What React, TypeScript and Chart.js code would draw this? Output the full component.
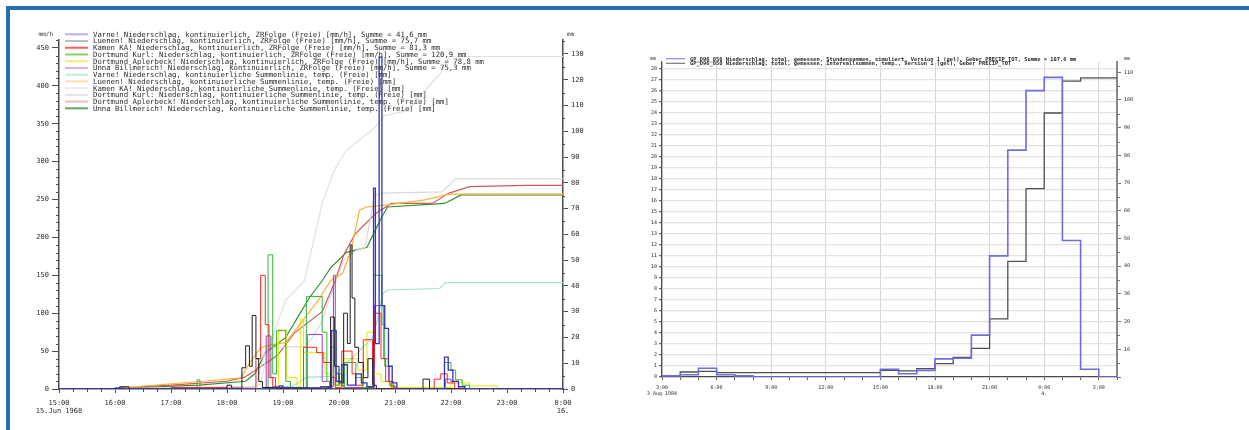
import { useEffect, useRef } from 'react';
import { Chart, registerables } from 'chart.js';

Chart.register(...registerables);

const MONO = '"DejaVu Sans Mono", "Liberation Mono", monospace';
const TEXT = '#2b2b2b';
const AXIS = '#4d4d4d';

// ================= LEFT CHART: 15 Jun 1968 (x = minutes after 15:00) =================
const leftHourLabels = ['15:00', '16:00', '17:00', '18:00', '19:00', '20:00', '21:00', '22:00', '23:00', '0:00'];
const leftDateLabels = ['15.Jun 1968', '16.'];

const leftLegendLabels = [
  'Varne! Niederschlag, kontinuierlich, ZRFolge (Freie) [mm/h], Summe = 41,6 mm',
  'Luenen! Niederschlag, kontinuierlich, ZRFolge (Freie) [mm/h], Summe = 75,7 mm',
  'Kamen KA! Niederschlag, kontinuierlich, ZRFolge (Freie) [mm/h], Summe = 81,3 mm',
  'Dortmund Kurl: Niederschlag, kontinuierlich, ZRFolge (Freie) [mm/h], Summe = 120,9 mm',
  'Dortmund Aplerbeck! Niederschlag, kontinuierlich, ZRFolge (Freie) [mm/h], Summe = 78,8 mm',
  'Unna Billmerich! Niederschlag, kontinuierlich, ZRFolge (Freie) [mm/h], Summe = 75,3 mm',
  'Varne! Niederschlag, kontinuierliche Summenlinie, temp. (Freie) [mm]',
  'Luenen! Niederschlag, kontinuierliche Summenlinie, temp. (Freie) [mm]',
  'Kamen KA! Niederschlag, kontinuierliche Summenlinie, temp. (Freie) [mm]',
  'Dortmund Kurl: Niederschlag, kontinuierliche Summenlinie, temp. (Freie) [mm]',
  'Dortmund Aplerbeck! Niederschlag, kontinuierliche Summenlinie, temp. (Freie) [mm]',
  'Unna Billmerich! Niederschlag, kontinuierliche Summenlinie, temp. (Freie) [mm]',
];
const leftLegendColors = [
  '#b4b4ee', '#bcbcbc', '#ff5c5c', '#8fd06a', '#f0f070', '#dcb0e4',
  '#c2ebe0', '#ffdca8', '#ececec', '#e4e4e4', '#efbcbc', '#5faa5f',
];
const leftLineColors = [
  '#3434b8', '#1e1e1e', '#ff2424', '#36b336', '#e6e600', '#9b3dca',
  '#9fe0cf', '#ffb13b', '#d9d9d9', '#e0e0e0', '#cc5a5a', '#2f8f2f',
];

// intensities, mm/h (each value holds until the next time)
const varneRateT = [0, 60, 70, 230, 236, 240, 288, 292, 297, 303, 309, 318, 324, 330, 337, 339, 343, 346, 349, 353, 357, 362, 410, 413, 417, 422, 428, 435, 540];
const varneRateV = [0, 1, 0, 2, 4, 1.5, 2, 77, 10, 32, 5, 20, 8, 3, 265, 60, 438, 110, 80, 30, 8, 0, 0, 42, 25, 10, 3, 0, 0];
const luenenRateT = [0, 65, 75, 180, 185, 196, 200, 204, 207, 211, 214, 218, 230, 280, 291, 295, 300, 305, 309, 312, 314, 317, 321, 326, 331, 336, 340, 390, 397, 540];
const luenenRateV = [0, 3, 0, 5, 1, 28, 57, 30, 97, 40, 10, 2, 1, 3, 95, 30, 8, 100, 60, 190, 120, 55, 35, 15, 40, 5, 0, 13, 0, 0];
const kamenRateT = [0, 120, 180, 211, 216, 221, 225, 229, 235, 262, 276, 283, 292, 296, 303, 314, 318, 326, 336, 338, 345, 350, 356, 360, 402, 409, 416, 424, 540];
const kamenRateV = [0, 2, 1, 40, 150, 85, 15, 3, 0, 55, 48, 35, 15, 2, 50, 20, 5, 65, 30, 100, 40, 10, 3, 0, 13, 20, 8, 0, 0];
const kurlRateT = [0, 148, 151, 224, 229, 233, 243, 248, 265, 282, 287, 291, 296, 300, 304, 306, 318, 325, 337, 346, 349, 354, 360, 413, 420, 425, 432, 440, 540];
const kurlRateV = [0, 12, 0, 177, 20, 77, 10, 2, 122, 75, 10, 55, 5, 20, 3, 35, 15, 2, 150, 85, 30, 5, 0, 35, 25, 12, 5, 0, 0];
const aplerbeckRateT = [0, 235, 244, 255, 259, 262, 285, 297, 305, 320, 330, 337, 345, 355, 420, 440, 470, 540];
const aplerbeckRateV = [0, 78, 15, 3, 92, 48, 20, 5, 40, 25, 75, 20, 10, 2, 8, 4, 0, 0];
const unnaRateT = [0, 222, 227, 232, 266, 282, 290, 294, 296, 300, 305, 338, 348, 353, 358, 414, 420, 428, 540];
const unnaRateV = [0, 70, 15, 2, 72, 10, 3, 150, 20, 5, 2, 110, 40, 10, 0, 13, 10, 0, 0];

// cumulative sums, mm
const varneSumT = [0, 200, 250, 265, 295, 305, 320, 336, 342, 347, 352, 408, 414, 540];
const varneSumV = [0, 0, 1, 4.5, 5, 9, 14, 20, 28, 37, 38.4, 39, 41.3, 41.3];
const luenenSumT = [0, 60, 155, 195, 204, 216, 225, 243, 260, 278, 291, 304, 313, 322, 330, 352, 392, 418, 540];
const luenenSumV = [0, 0.3, 3, 4.3, 10, 16, 17, 18, 26, 34.5, 42, 45, 54, 69.5, 70.6, 71.4, 73.4, 75.6, 75.6];
const kamenSumT = [0, 150, 210, 216, 222, 265, 280, 295, 305, 318, 328, 338, 345, 410, 425, 540];
const kamenSumV = [0, 0.5, 1, 8, 16, 16.5, 25, 40, 50, 53.6, 55, 75, 76, 76.5, 81.5, 81.5];
const kurlSumT = [0, 150, 210, 216, 225, 243, 263, 282, 295, 308, 322, 339, 348, 374, 383, 409, 418, 540];
const kurlSumV = [0, 0.3, 1, 2, 16.7, 34.5, 42, 72, 85, 92.7, 96.6, 101.7, 106, 108, 112, 122.6, 129, 129];
const aplerbeckSumT = [0, 60, 120, 180, 199, 234, 252, 282, 295, 305, 317, 339, 356, 400, 418, 440, 500, 540];
const aplerbeckSumV = [0, 0.3, 1.5, 3, 4.6, 13, 21.7, 30, 41, 52, 60, 68, 72, 72, 76, 78.5, 79, 79];
const unnaSumT = [0, 60, 150, 200, 210, 221, 243, 256, 269, 282, 291, 308, 330, 339, 346, 352, 413, 431, 540];
const unnaSumV = [0, 0.2, 1.5, 3, 6, 14, 20, 28, 35.8, 42, 47, 53, 55, 61.7, 66.8, 70.6, 72, 75.3, 75.3];

// ================= RIGHT CHART: 3/4 Aug 1984 (x = hours after 3:00) =================
const rightHourLabels = ['3:00', '6:00', '9:00', '12:00', '15:00', '18:00', '21:00', '0:00', '3:00'];
const rightDateLabels = ['3 Aug 1984', '4.'];
const rightLegendLabels = [
  'GP_D96_050 Niederschlag, total, gemessen, Stundensummen, simuliert, Version 1 (gel), Geber PRECIP_TOT, Summe = 107.6 mm',
  'GP_D96_050 Niederschlag, total, gemessen, Intervallsummen, temp., Version 1 (gel), Geber PRECIP_TOT',
];
const rightLegendColors = ['#8a8ae6', '#7a7a7a'];
const rightLineColors = ['#6e6ee0', '#505050'];
// hourly sums (mm per hour), left axis
const hourlySums = [0.1, 0.2, 0.8, 0.2, 0.1, 0, 0, 0, 0, 0, 0, 0, 0.7, 0.3, 0.6, 1.65, 1.7, 3.8, 11.0, 20.6, 26.0, 27.2, 12.4, 0.7, 0];
// interval sums (mm), right axis
const intervalSums = [0.2, 1.8, 2.0, 1.6, 1.6, 1.6, 1.6, 1.6, 1.6, 1.6, 1.6, 1.6, 2.4, 2.2, 3.0, 4.8, 7.1, 10.3, 21.0, 41.7, 68.0, 95.3, 106.8, 108.0, 108.0];

// ---------------------------------------------------------------------------
const pts = (t: number[], v: number[]) => t.map((x, i) => ({ x, y: v[i] }));

function drawLegend(ctx: CanvasRenderingContext2D, labels: string[], colors: string[], x0: number, y0: number, dy: number, len: number, font: string, lw: number) {
  ctx.font = font;
  ctx.textAlign = 'left';
  ctx.textBaseline = 'middle';
  labels.forEach((lab, i) => {
    const y = y0 + i * dy;
    ctx.strokeStyle = colors[i];
    ctx.lineWidth = lw;
    ctx.beginPath();
    ctx.moveTo(x0, y);
    ctx.lineTo(x0 + len, y);
    ctx.stroke();
    ctx.fillStyle = TEXT;
    ctx.fillText(lab, x0 + len + 5, y + 0.5);
  });
}

const leftOverlay = {
  id: 'leftOverlay',
  afterDraw(chart: any) {
    const { ctx, chartArea, scales } = chart;
    ctx.save();
    ctx.strokeStyle = AXIS;
    ctx.lineWidth = 1;
    ctx.beginPath();
    for (let v = 10; v <= 460; v += 10) {
      if (v % 50 === 0) continue;
      const y = Math.round(scales.yL.getPixelForValue(v)) + 0.5;
      ctx.moveTo(chartArea.left - 3, y);
      ctx.lineTo(chartArea.left, y);
    }
    for (let v = 5; v <= 135; v += 10) {
      const y = Math.round(scales.yR.getPixelForValue(v)) + 0.5;
      ctx.moveTo(chartArea.right, y);
      ctx.lineTo(chartArea.right + 2, y);
    }
    for (let m = 15; m < 540; m += 15) {
      if (m % 60 === 0) continue;
      const x = Math.round(scales.x.getPixelForValue(m)) + 0.5;
      ctx.moveTo(x, chartArea.bottom - 1);
      ctx.lineTo(x, chartArea.bottom + 3);
    }
    ctx.stroke();
    ctx.fillStyle = TEXT;
    ctx.font = `6px ${MONO}`;
    ctx.textBaseline = 'middle';
    ctx.textAlign = 'right';
    ctx.fillText('mm/h', chartArea.left - 6, 34);
    ctx.textAlign = 'left';
    ctx.fillText('mm', chartArea.right + 4, 34);
    drawLegend(ctx, leftLegendLabels, leftLegendColors, 65, 34.3, 6.73, 23, `7.3px ${MONO}`, 2);
    ctx.restore();
  },
};

const rightOverlay = {
  id: 'rightOverlay',
  afterDraw(chart: any) {
    const { ctx, chartArea, scales } = chart;
    ctx.save();
    ctx.strokeStyle = '#777';
    ctx.lineWidth = 1;
    ctx.beginPath();
    for (let v = 5; v <= 110; v += 10) {
      const y = Math.round(scales.y2.getPixelForValue(v)) + 0.5;
      ctx.moveTo(chartArea.right, y);
      ctx.lineTo(chartArea.right + 3, y);
    }
    ctx.stroke();
    ctx.fillStyle = TEXT;
    ctx.font = `5px ${MONO}`;
    ctx.textBaseline = 'middle';
    ctx.textAlign = 'right';
    ctx.fillText('mm', chartArea.left - 6, 59);
    ctx.textAlign = 'left';
    ctx.fillText('mm', chartArea.right + 7, 59);
    drawLegend(ctx, rightLegendLabels, rightLegendColors, 46, 58.7, 4.6, 19, `bold 5.4px ${MONO}`, 1.2);
    ctx.restore();
  },
};

function LeftChart() {
  const ref = useRef<HTMLCanvasElement>(null);
  useEffect(() => {
    const rates = [
      [varneRateT, varneRateV], [luenenRateT, luenenRateV], [kamenRateT, kamenRateV],
      [kurlRateT, kurlRateV], [aplerbeckRateT, aplerbeckRateV], [unnaRateT, unnaRateV],
    ];
    const sums = [
      [varneSumT, varneSumV], [luenenSumT, luenenSumV], [kamenSumT, kamenSumV],
      [kurlSumT, kurlSumV], [aplerbeckSumT, aplerbeckSumV], [unnaSumT, unnaSumV],
    ];
    const datasets: any[] = [];
    rates.forEach(([t, v], i) => datasets.push({
      label: leftLegendLabels[i], data: pts(t, v), yAxisID: 'yL', stepped: true,
      borderColor: leftLineColors[i], borderWidth: i === 0 ? 1.3 : 1, pointRadius: 0, fill: false,
    }));
    sums.forEach(([t, v], i) => datasets.push({
      label: leftLegendLabels[i + 6], data: pts(t, v), yAxisID: 'yR',
      borderColor: leftLineColors[i + 6], borderWidth: 1.2, pointRadius: 0, fill: false, tension: 0,
    }));
    const tickFont = { family: MONO, size: 7, lineHeight: 1.2 };
    const chart = new Chart(ref.current!, {
      type: 'line',
      data: { datasets },
      plugins: [leftOverlay],
      options: {
        responsive: false, animation: false, devicePixelRatio: 1,
        layout: { padding: { top: 40, left: 0, right: 0, bottom: 0 } },
        plugins: { legend: { display: false }, tooltip: { enabled: false } },
        scales: {
          x: {
            type: 'linear', min: 0, max: 540,
            afterFit: (s: any) => { s.height = 41; },
            ticks: {
              stepSize: 60, autoSkip: false, maxRotation: 0, includeBounds: false,
              font: tickFont, color: TEXT, padding: 6,
              callback: (val: any) => {
                const i = Math.round(Number(val) / 60);
                if (i === 0) return [leftHourLabels[0], leftDateLabels[0]];
                if (i === 9) return [leftHourLabels[9], leftDateLabels[1]];
                return leftHourLabels[i];
              },
            },
            grid: { drawOnChartArea: false, tickLength: 4, color: AXIS },
            border: { color: AXIS, width: 1.5 },
          },
          yL: {
            type: 'linear', position: 'left', min: 0, max: 460.5,
            afterFit: (s: any) => { s.width = 59; },
            ticks: { stepSize: 50, includeBounds: false, font: tickFont, color: TEXT, padding: 3 },
            grid: { drawOnChartArea: false, tickLength: 7, color: AXIS },
            border: { color: AXIS, width: 1.5 },
          },
          yR: {
            type: 'linear', position: 'right', min: 0, max: 135.4,
            afterFit: (s: any) => { s.width = 57; },
            ticks: { stepSize: 10, includeBounds: false, font: tickFont, color: TEXT, padding: 3 },
            grid: { drawOnChartArea: false, tickLength: 5, color: AXIS },
            border: { color: AXIS, width: 1.5 },
          },
        },
      } as any,
    });
    return () => chart.destroy();
  }, []);
  return <canvas ref={ref} width={620} height={430} style={{ position: 'absolute', left: 0, top: 0, width: 620, height: 430 }} />;
}

function RightChart() {
  const ref = useRef<HTMLCanvasElement>(null);
  useEffect(() => {
    const blue = hourlySums.map((y, i) => ({ x: i, y })).concat([{ x: hourlySums.length, y: hourlySums[hourlySums.length - 1] }]);
    const black = intervalSums.map((y, i) => ({ x: i, y })).concat([{ x: intervalSums.length, y: intervalSums[intervalSums.length - 1] }]);
    const tickFont = { family: MONO, size: 5, lineHeight: 1.15 };
    const chart = new Chart(ref.current!, {
      type: 'line',
      data: {
        datasets: [
          { label: rightLegendLabels[0], data: blue, yAxisID: 'y', stepped: true, borderColor: rightLineColors[0], borderWidth: 1.6, pointRadius: 0 },
          { label: rightLegendLabels[1], data: black, yAxisID: 'y2', stepped: true, borderColor: rightLineColors[1], borderWidth: 1.3, pointRadius: 0 },
        ],
      },
      plugins: [rightOverlay],
      options: {
        responsive: false, animation: false, devicePixelRatio: 1,
        layout: { padding: { top: 62, left: 0, right: 92, bottom: 0 } },
        plugins: { legend: { display: false }, tooltip: { enabled: false } },
        scales: {
          x: {
            type: 'linear', min: 0, max: 25,
            afterFit: (s: any) => { s.height = 53; },
            ticks: {
              stepSize: 1, autoSkip: false, maxRotation: 0, includeBounds: false,
              font: tickFont, color: TEXT, padding: 5,
              callback: (val: any) => {
                const v = Math.round(Number(val));
                if (v % 3 !== 0) return '';
                const i = v / 3;
                if (i === 0) return [rightHourLabels[0], rightDateLabels[0]];
                if (i === 7) return [rightHourLabels[7], rightDateLabels[1]];
                return rightHourLabels[i];
              },
            },
            grid: {
              drawOnChartArea: true, tickLength: 3, tickColor: '#666',
              color: (c: any) => (c.tick && Math.round(c.tick.value) % 3 === 0 ? '#d6d6d6' : 'rgba(0,0,0,0)'),
            },
            border: { color: AXIS, width: 1.2 },
          },
          y: {
            type: 'linear', position: 'left', min: 0, max: 28.6,
            afterFit: (s: any) => { s.width = 42; },
            ticks: { stepSize: 1, autoSkip: false, includeBounds: false, font: tickFont, color: TEXT, padding: 2 },
            grid: { drawOnChartArea: true, color: '#e2e2e2', lineWidth: 1.2, tickLength: 3, tickColor: '#666' },
            border: { color: AXIS, width: 1.2 },
          },
          y2: {
            type: 'linear', position: 'right', min: 0, max: 113.7,
            afterFit: (s: any) => { s.width = 40; },
            ticks: {
              stepSize: 10, includeBounds: false, font: tickFont, color: TEXT, padding: 3,
              callback: (val: any) => (Number(val) === 0 ? '' : String(val)),
            },
            grid: { drawOnChartArea: false, tickLength: 4, color: '#777' },
            border: { color: '#8a8a8a', width: 2 },
          },
        },
      } as any,
    });
    return () => chart.destroy();
  }, []);
  return <canvas ref={ref} width={629} height={430} style={{ position: 'absolute', left: 620, top: 0, width: 629, height: 430 }} />;
}

export default function App() {
  return (
    <div style={{ position: 'absolute', left: 0, top: 0, width: 1249, height: 430, overflow: 'hidden', background: '#fff' }}>
      <div style={{ position: 'absolute', left: 6, top: 6, width: 1243, height: 424, borderTop: '4px solid #226fb4', borderLeft: '4px solid #226fb4', boxSizing: 'border-box' }} />
      <LeftChart />
      <RightChart />
    </div>
  );
}
